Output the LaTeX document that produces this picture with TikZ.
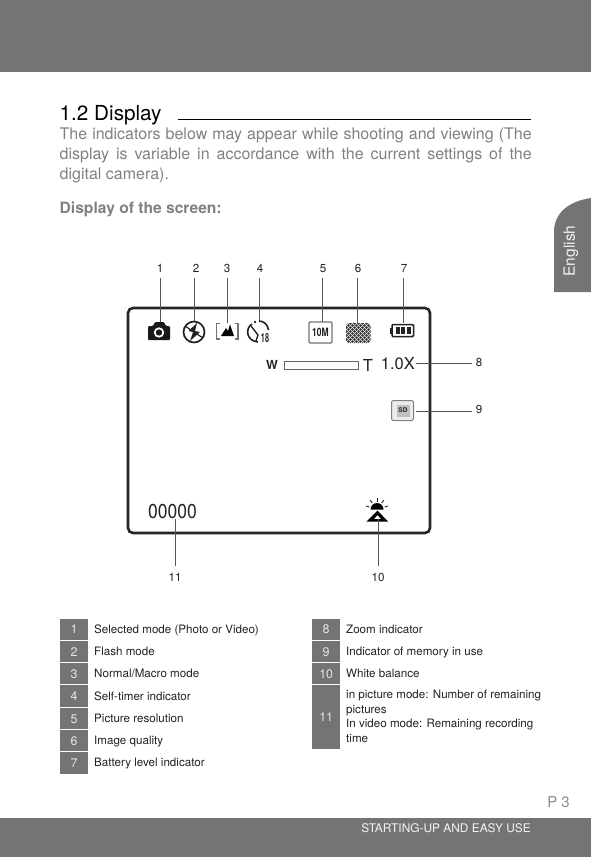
\documentclass[tikz,border=0pt]{standalone}
\usepackage{fontspec}
\setmainfont{TeX Gyre Heros}
\definecolor{bar}{HTML}{747474}
\definecolor{graytext}{HTML}{808080}
\definecolor{ink}{HTML}{222222}
\definecolor{lead}{HTML}{555555}
\definecolor{cellnum}{HTML}{E4E4E4}
\tikzset{
  numlab/.style={font=\fontsize{11.6}{13}\selectfont,text=ink,inner sep=0pt,anchor=base},
  leader/.style={draw=lead,line width=0.7pt},
  cell/.style={fill=bar,draw=none,inner sep=0pt,minimum width=28pt,text=cellnum,text height=9pt,text depth=0pt,font=\fontsize{12.5}{14}\selectfont,anchor=north west},
  desc/.style={font=\fontsize{11.6}{14.6}\selectfont,text=ink,inner sep=0pt,anchor=base west,align=left},
  icon/.style={draw=ink,line width=1pt},
}
\begin{document}
\begin{tikzpicture}[x=1pt,y=-1pt]
\useasboundingbox (0,0) rectangle (591,857);
\fill[bar] (0,0) rectangle (591,72);
\fill[bar] (0,818) rectangle (591,857);
\fill[bar] (591,198) .. controls (570,201) and (554,212) .. (554,232) -- (554,292) -- (591,292) -- cycle;
\node[rotate=90,text=white!90!bar,font=\fontsize{15.5}{16}\selectfont,inner sep=0pt] (tab) at (571,251) {English};
% heading
\node[anchor=base west,inner sep=0pt,font=\fontsize{20.7}{24}\selectfont,text=black] (title) at (59.5,120.5) {1.2 Display};
\coordinate (ruleA) at (178,119.5);
\coordinate (ruleB) at (531,119.5);
\draw[black,line width=0.9pt] (ruleA) -- (ruleB);
\node[anchor=north west,inner sep=0pt,text width=472pt,align=justify,text=graytext,font=\fontsize{16}{20}\selectfont] (para) at (59.5,128)
 {The indicators below may appear while shooting and viewing (The\linebreak display is variable in accordance with the current settings of the\linebreak digital camera).};
\node[anchor=base west,inner sep=0pt,text=graytext,font=\fontsize{15.6}{18}\selectfont\bfseries] (sub) at (59.5,213) {Display of the screen:};
% screen
\node[draw=black!85,line width=2.6pt,rounded corners=5pt,minimum width=302pt,minimum height=225pt,inner sep=0pt] (screen) at (279,420.5) {};
% top icons
\coordinate (i1) at (160,323);\coordinate (i2) at (194,321);\coordinate (i3) at (227,323);\coordinate (i4) at (259,321);
\coordinate (i5) at (322,322);\coordinate (i6) at (357,323);\coordinate (i7) at (403,323);
\node[numlab] (n1) at (160,272) {1};
\node[numlab] (n2) at (196,272) {2};
\node[numlab] (n3) at (227,272) {3};
\node[numlab] (n4) at (260,272) {4};
\node[numlab] (n5) at (323,272) {5};
\node[numlab] (n6) at (358,272) {6};
\node[numlab] (n7) at (404,272) {7};
\draw[leader] (160,278) -- (i1);
\draw[leader] (194,278) -- (i2);
\draw[leader] (227,278) -- (i3);
\draw[leader] (259,278) -- (i4);
\draw[leader] (322,278) -- (i5);
\draw[leader] (357,278) -- (i6);
\draw[leader] (403,278) -- (i7);
% camera
\fill[black!90,rounded corners=1pt] (148,326) -- (153,326) -- (155,322) -- (164,322) -- (166,326) -- (170,326) -- (170,340) -- (148,340) -- cycle;
\fill[white] (159,332.5) circle (5.2);
\fill[black!90] (159,332.5) circle (3.2);
% flash
\draw[icon,line width=1.7pt] (194,332) circle (10.5);
\fill[ink] (197,323) -- (188.5,331) -- (193,332) -- (190,341) -- (200,332) -- (195,331) -- cycle;
\draw[ink,line width=1.2pt] (185,326) -- (203,338);
% macro
\draw[draw=black!55,line width=1.1pt] (219.5,323.5) -- (216.5,323.5) -- (216.5,339) -- (219.5,339);
\draw[draw=black!55,line width=1.1pt] (235,323.5) -- (238,323.5) -- (238,339) -- (235,339);
\fill[black] (221,336) -- (226,328) -- (228,331) -- (230,324.5) -- (234,336) -- cycle;
% timer
\draw[ink,line width=1.6pt] (252,324) .. controls (245,328) and (246,341) .. (258,342);
\draw[ink,line width=1.6pt] (259,321) .. controls (264,321) and (268,325) .. (268.5,330);
\draw[ink,line width=1.4pt] (251,326) -- (258,335) -- (256,341);
\fill[ink] (255,322) circle (1.4);
\node[inner sep=0pt,font=\fontsize{9}{10}\selectfont\bfseries,text=ink] (timer) at (265,338) {\scalebox{0.8}[1.4]{18}};
% 10M
\node[draw=black!55,line width=1.1pt,rounded corners=1pt,minimum width=23pt,minimum height=21pt,inner sep=0pt,font=\fontsize{10}{10}\selectfont\bfseries,text=ink] (res) at (320.5,332.5) {\scalebox{0.85}[1.15]{10M}};
% quality checker
\begin{scope}
\clip[rounded corners=3pt] (346,323) rectangle (370.5,343);
\fill[black!12] (346,323) rectangle (370.5,343);
\foreach \a in {0,...,12}{\foreach \b in {0,...,10}{
  \pgfmathparse{int(mod(\a+\b,2))}\ifnum\pgfmathresult=0\relax
  \fill[black!80] (346.5+\a*2,323.5+\b*2) circle (1.35);\fi}}
\end{scope}
% battery
\draw[ink,line width=1.5pt,rounded corners=1pt] (392,324.5) rectangle (413.5,336.5);
\fill[ink] (390,327.5) rectangle (392,333.5);
\fill[ink] (395.5,327) rectangle (399.5,334);
\fill[ink] (401,327) rectangle (405,334);
\fill[ink] (406.5,327) rectangle (410.5,334);
% zoom
\node[inner sep=0pt,font=\fontsize{12.5}{14}\selectfont\bfseries,text=ink] (zw) at (272,365) {W};
\node[draw=black!60,line width=1pt,minimum width=74pt,minimum height=8pt,inner sep=0pt] (zbar) at (321,365.5) {};
\node[inner sep=0pt,font=\fontsize{16.5}{17}\selectfont,text=ink] (zt) at (368,365.5) {T};
\node[inner sep=0pt,font=\fontsize{16.5}{17}\selectfont,text=ink,anchor=east] (zx) at (415,364) {1.0X};
\node[numlab] (n8) at (479,366) {8};
\coordinate (e8) at (472,363);
\draw[leader] (zx.east) ++(1,-1) -- (e8);
% SD
\node[draw=black!50,fill=black!8,line width=1pt,rounded corners=1.5pt,minimum width=22pt,minimum height=20pt,inner sep=0pt] (sd) at (402.5,410.5) {};
\node[fill=black!25,minimum width=13pt,minimum height=12pt,inner sep=0pt,font=\fontsize{6.5}{7}\selectfont\bfseries,text=ink] (sdt) at (403,410.5) {SD};
\node[numlab] (n9) at (479,413) {9};
\coordinate (e9) at (472,411);
\draw[leader] (sd.east) ++(2,0.5) -- (e9);
% counter
\node[inner sep=0pt,font=\fontsize{17.5}{18}\selectfont,text=ink] (cnt) at (172.5,512) {\scalebox{1}[1.15]{00000}};
% WB
\fill[black] (370.5,509.5) arc (180:360:6.5) -- cycle;
\foreach \a in {-72,-36,0,36,72}{\draw[ink,line width=0.9pt] (377,509.5) ++(270+\a:8) -- ++(270+\a:3.5);}
\fill[black,even odd rule] (377.5,510.5) -- (388,521.5) -- (366.5,521.5) -- cycle (377.5,515) -- (374,519) -- (381,519) -- cycle;
\node[numlab] (n11) at (175,581) {11};
\node[numlab] (n10) at (378,581) {10};
\coordinate (s11) at (175,519);\coordinate (s10) at (378,519);
\coordinate (e11) at (175,566);\coordinate (e10) at (378,566);
\draw[leader] (s11) -- (e11);
\draw[leader] (s10) -- (e10);
% table
\foreach \nm/\num/\x/\y/\h in {c1/1/60/618.5/21.5,c2/2/60/641/21,c3/3/60/663/21,c4/4/60/685/22,c5/5/60/708/21,c6/6/60/730/21,c7/7/60/752/21.5,c8/8/312/618.5/21.5,c9/9/312/641/21,c10/10/312/663/21,c11/11/312/685/64}{
  \node[cell,minimum height=\h pt] (\nm) at (\x,\y) {\num};
}
\node[desc] at (94,633) (d1) {Selected mode (Photo or Video)};
\node[desc] at (94,655) (d2) {Flash mode};
\node[desc] at (94,677) (d3) {Normal/Macro mode};
\node[desc] at (94,700) (d4) {Self-timer indicator};
\node[desc] at (94,722) (d5) {Picture resolution};
\node[desc] at (94,744) (d6) {Image quality};
\node[desc] at (94,766) (d7) {Battery level indicator};
\node[desc] at (346,633) (d8) {Zoom indicator};
\node[desc] at (346,655) (d9) {Indicator of memory in use};
\node[desc] at (346,677) (d10) {White balance};
\node[desc,anchor=west] at (346,716.5) (d11) {in picture mode: Number of remaining\\pictures\\In video mode: Remaining recording\\time};
% footer
\node[inner sep=0pt,anchor=east,text=black!45,font=\fontsize{15}{16}\selectfont] (page) at (570,802) {P 3};
\node[inner sep=0pt,anchor=east,text=white!92!bar,font=\fontsize{11.9}{14}\selectfont] (foot) at (531,828) {STARTING-UP AND EASY USE};
\end{tikzpicture}
\end{document}
